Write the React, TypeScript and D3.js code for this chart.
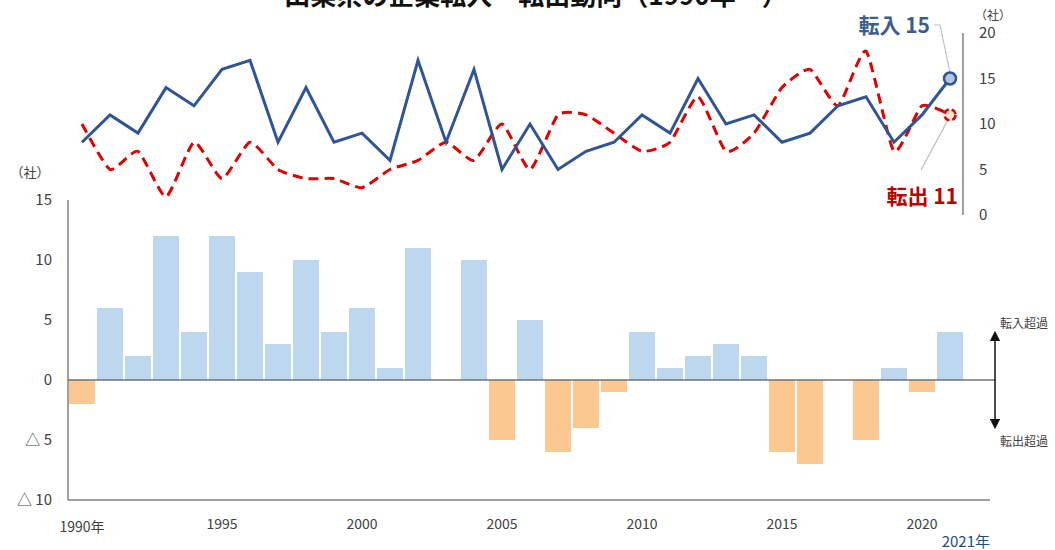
import React from "react";
import * as d3 from "d3";

const years = d3.range(1990, 2022);
const inflow = [8, 11, 9, 14, 12, 16, 17, 8, 14, 8, 9, 6, 17, 8, 16, 5, 10, 5, 7, 8, 11, 9, 15, 10, 11, 8, 9, 12, 13, 8, 11, 15];
const outflow = [10, 5, 7, 2, 8, 4, 8, 5, 4, 4, 3, 5, 6, 8, 6, 10, 5, 11, 11, 9, 7, 8, 13, 7, 9, 14, 16, 12, 18, 7, 12, 11];
const net = inflow.map((v, i) => v - outflow[i]);
const lineTicks = [0, 5, 10, 15, 20];
const barTicks = [15, 10, 5, 0, -5, -10];
const xLabelYears = [1995, 2000, 2005, 2010, 2015, 2020];

const FONT = "'Noto Sans CJK JP', 'Noto Sans', sans-serif";
const BLUE = "#2F5597";
const RED = "#E00000";

export default function App() {
  const x = d3.scaleBand<number>().domain(years).range([68, 964]).paddingInner(0.07).paddingOuter(0.035);
  const cx = (yr: number) => (x(yr) as number) + x.bandwidth() / 2;
  const yL = d3.scaleLinear().domain([0, 20]).range([215, 33]);
  const yB = d3.scaleLinear().domain([-10, 15]).range([500, 200]);

  const lineIn = d3.line<number>().x((_, i) => cx(years[i])).y((d) => yL(d));
  const lineOut = d3
    .line<number>()
    .x((_, i) => cx(years[i]))
    .y((d) => yL(d))
    .curve(d3.curveCardinal.tension(0.45));

  const lastX = cx(2021);
  const lastIn = inflow[inflow.length - 1];
  const lastOut = outflow[outflow.length - 1];

  return (
    <svg width={1055} height={550} style={{ position: "absolute", left: 0, top: 0, background: "#fff" }} fontFamily={FONT}>
      <defs>
        <marker id="arr" viewBox="0 0 10 10" refX="5" refY="5" markerWidth="7" markerHeight="7" orient="auto-start-reverse">
          <path d="M0,0 L10,5 L0,10 z" fill="#111" />
        </marker>
      </defs>
      {/* title (cut off at top, as in the reference) */}
      <text x={536} y={5} textAnchor="middle" fontSize={26} fontWeight="bold" fill="#111">
        山梨県の企業転入・転出動向（1990年～）
      </text>

      {/* bars */}
      {years.map((yr, i) => {
        const v = net[i];
        if (v === 0) return null;
        const y0 = yB(0);
        const y1 = yB(v);
        return (
          <rect
            key={yr}
            x={x(yr)}
            width={x.bandwidth()}
            y={Math.min(y0, y1)}
            height={Math.abs(y1 - y0)}
            fill={v > 0 ? "#BDD7EE" : "#FCC892"}
          />
        );
      })}
      {/* bar axes */}
      <line x1={68} x2={68} y1={yB(15)} y2={yB(-10)} stroke="#808080" strokeWidth={1.5} />
      <line x1={68} x2={990} y1={yB(-10)} y2={yB(-10)} stroke="#808080" strokeWidth={1.5} />
      <line x1={68} x2={995} y1={yB(0)} y2={yB(0)} stroke="#707070" strokeWidth={1.5} />
      {barTicks.map((t) => (
        <text key={t} x={52} y={yB(t)} dy="0.35em" textAnchor="end" fontSize={15} fill="#404040">
          {t < 0 ? `△ ${-t}` : `${t}`}
        </text>
      ))}
      <text x={30} y={177} textAnchor="middle" fontSize={13} fill="#404040">（社）</text>
      <text x={82} y={532} textAnchor="middle" fontSize={14} fill="#404040">1990年</text>
      {xLabelYears.map((yr) => (
        <text key={yr} x={cx(yr)} y={529} textAnchor="middle" fontSize={14} fill="#404040">
          {yr}
        </text>
      ))}
      <text x={990} y={547} textAnchor="end" fontSize={15} fill="#1F4E79">2021年</text>

      {/* arrow */}
      <line x1={995} x2={995} y1={336} y2={424} stroke="#111" strokeWidth={1.5} markerStart="url(#arr)" markerEnd="url(#arr)" />
      <text x={1000} y={328} fontSize={12} fill="#404040">転入超過</text>
      <text x={1000} y={446} fontSize={12} fill="#404040">転出超過</text>

      {/* line chart */}
      <line x1={963} x2={963} y1={yL(20)} y2={yL(0)} stroke="#808080" strokeWidth={1.5} />
      {lineTicks.map((t) => (
        <text key={t} x={979} y={yL(t)} dy="0.35em" fontSize={15} fill="#404040">
          {t}
        </text>
      ))}
      <text x={993} y={20} textAnchor="middle" fontSize={12} fill="#404040">（社）</text>

      <path d={lineOut(outflow) || ""} fill="none" stroke={RED} strokeWidth={3} strokeDasharray="10,6" />
      <path d={lineIn(inflow) || ""} fill="none" stroke={BLUE} strokeWidth={3} />

      {/* leaders */}
      <polyline points={`934,25 940,25 ${lastX},${yL(lastIn) - 6}`} fill="none" stroke="#BFBFBF" strokeWidth={1.2} />
      <polyline points={`921,170 ${lastX - 2},${yL(lastOut) + 5}`} fill="none" stroke="#BFBFBF" strokeWidth={1.2} />
      <circle cx={lastX} cy={yL(lastOut)} r={5.5} fill="#F5E6D3" stroke={RED} strokeWidth={2.5} strokeDasharray="6,3" />
      <circle cx={lastX} cy={yL(lastIn)} r={6} fill="#B4C7DC" stroke={BLUE} strokeWidth={2.5} />

      <text x={930} y={33} textAnchor="end" fontSize={21} fontWeight="bold" fill="#3A5F8C">転入 15</text>
      <text x={958} y={204} textAnchor="end" fontSize={21} fontWeight="bold" fill="#C00000">転出 11</text>
    </svg>
  );
}
